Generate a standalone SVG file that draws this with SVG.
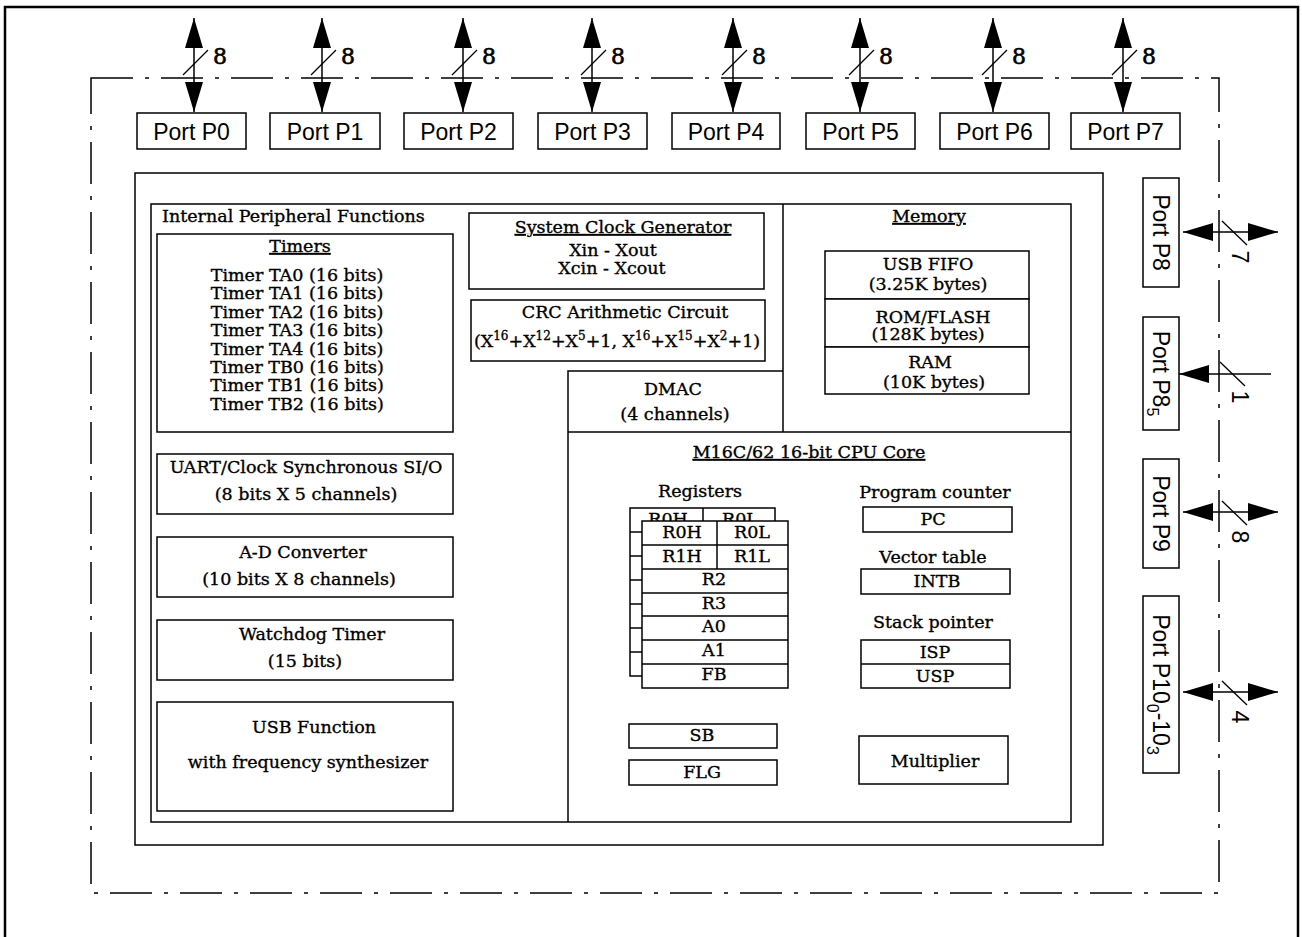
<svg xmlns="http://www.w3.org/2000/svg" width="1302" height="937" viewBox="0 0 1302 937">
<style>
.frame{fill:none;stroke:#000;stroke-width:2.5}
.dd{fill:none;stroke:#000;stroke-width:1.5;stroke-dasharray:42 12 4 12}
.box{fill:#fff;stroke:#000;stroke-width:1.5}
.ln{fill:none;stroke:#000;stroke-width:1.5}
.arr{fill:none;stroke:#000;stroke-width:1.5}
.sl{fill:none;stroke:#000;stroke-width:1.3}
.sans{font-family:"Liberation Sans",Arial,sans-serif;font-size:23px;fill:#000}
.serif{font-family:"DejaVu Serif",serif;font-size:17.5px;fill:#000;stroke:#000;stroke-width:0.35}
.lbl{font-family:"DejaVu Serif",serif;font-size:22px;fill:#000;stroke:#000;stroke-width:0.6}
.mid{text-anchor:middle}
.u{text-decoration:underline}
</style>
<defs>
<marker id="ah" viewBox="0 0 30 18" refX="30" refY="9" markerWidth="30" markerHeight="18" markerUnits="userSpaceOnUse" orient="auto-start-reverse">
<path d="M0,0 L30,9 L0,18 z" fill="#000"/>
</marker>
</defs>
<rect width="1302" height="937" fill="#fff"/>
<path class="frame" d="M5,940 V7 H1298 V940"/>
<rect class="dd" x="91" y="78" width="1128" height="815"/>

<g id="connectors">
<line class="arr" x1="194" y1="18" x2="194" y2="112" marker-start="url(#ah)" marker-end="url(#ah)"/>
<line class="arr" x1="322" y1="18" x2="322" y2="112" marker-start="url(#ah)" marker-end="url(#ah)"/>
<line class="arr" x1="463" y1="18" x2="463" y2="112" marker-start="url(#ah)" marker-end="url(#ah)"/>
<line class="arr" x1="592" y1="18" x2="592" y2="112" marker-start="url(#ah)" marker-end="url(#ah)"/>
<line class="arr" x1="733" y1="18" x2="733" y2="112" marker-start="url(#ah)" marker-end="url(#ah)"/>
<line class="arr" x1="860" y1="18" x2="860" y2="112" marker-start="url(#ah)" marker-end="url(#ah)"/>
<line class="arr" x1="993" y1="18" x2="993" y2="112" marker-start="url(#ah)" marker-end="url(#ah)"/>
<line class="arr" x1="1123" y1="18" x2="1123" y2="112" marker-start="url(#ah)" marker-end="url(#ah)"/>
<line class="sl" x1="183" y1="75" x2="208" y2="50"/>
<line class="sl" x1="311" y1="75" x2="336" y2="50"/>
<line class="sl" x1="452" y1="75" x2="477" y2="50"/>
<line class="sl" x1="581" y1="75" x2="606" y2="50"/>
<line class="sl" x1="722" y1="75" x2="747" y2="50"/>
<line class="sl" x1="849" y1="75" x2="874" y2="50"/>
<line class="sl" x1="982" y1="75" x2="1007" y2="50"/>
<line class="sl" x1="1112" y1="75" x2="1137" y2="50"/>
<text class="lbl" x="213" y="64">8</text>
<text class="lbl" x="341" y="64">8</text>
<text class="lbl" x="482" y="64">8</text>
<text class="lbl" x="611" y="64">8</text>
<text class="lbl" x="752" y="64">8</text>
<text class="lbl" x="879" y="64">8</text>
<text class="lbl" x="1012" y="64">8</text>
<text class="lbl" x="1142" y="64">8</text>

<line class="arr" x1="1183" y1="232" x2="1278" y2="232" marker-start="url(#ah)" marker-end="url(#ah)"/>
<line class="arr" x1="1271" y1="374" x2="1179" y2="374" marker-end="url(#ah)"/>
<line class="arr" x1="1183" y1="512" x2="1278" y2="512" marker-start="url(#ah)" marker-end="url(#ah)"/>
<line class="arr" x1="1183" y1="692" x2="1278" y2="692" marker-start="url(#ah)" marker-end="url(#ah)"/>
<line class="sl" x1="1222" y1="221" x2="1247" y2="245"/>
<line class="sl" x1="1220" y1="362" x2="1245" y2="386"/>
<line class="sl" x1="1222" y1="501" x2="1247" y2="525"/>
<line class="sl" x1="1222" y1="681" x2="1247" y2="705"/>
<text class="sans mid" transform="translate(1232,257) rotate(90)">7</text>
<text class="sans mid" transform="translate(1232,397) rotate(90)">1</text>
<text class="sans mid" transform="translate(1232,537) rotate(90)">8</text>
<text class="sans mid" transform="translate(1232,717) rotate(90)">4</text>
</g>

<g id="port-p0"><rect class="box" x="137" y="113" width="109" height="36"/><text class="sans mid" x="191.5" y="140">Port P0</text></g>
<g id="port-p1"><rect class="box" x="270" y="113" width="110" height="36"/><text class="sans mid" x="325" y="140">Port P1</text></g>
<g id="port-p2"><rect class="box" x="404" y="113" width="109" height="36"/><text class="sans mid" x="458.5" y="140">Port P2</text></g>
<g id="port-p3"><rect class="box" x="538" y="113" width="109" height="36"/><text class="sans mid" x="592.5" y="140">Port P3</text></g>
<g id="port-p4"><rect class="box" x="672" y="113" width="108" height="36"/><text class="sans mid" x="726" y="140">Port P4</text></g>
<g id="port-p5"><rect class="box" x="806" y="113" width="109" height="36"/><text class="sans mid" x="860.5" y="140">Port P5</text></g>
<g id="port-p6"><rect class="box" x="940" y="113" width="109" height="36"/><text class="sans mid" x="994.5" y="140">Port P6</text></g>
<g id="port-p7"><rect class="box" x="1071" y="113" width="109" height="36"/><text class="sans mid" x="1125.5" y="140">Port P7</text></g>

<g id="port-p8"><rect class="box" x="1143" y="178" width="36" height="109"/><text class="sans mid" transform="translate(1153,232.5) rotate(90)">Port P8</text></g>
<g id="port-p85"><rect class="box" x="1143" y="317" width="36" height="113"/><text class="sans mid" transform="translate(1153,373.5) rotate(90)">Port P8<tspan font-size="16" dy="6">5</tspan></text></g>
<g id="port-p9"><rect class="box" x="1143" y="459" width="36" height="109"/><text class="sans mid" transform="translate(1153,513.5) rotate(90)">Port P9</text></g>
<g id="port-p10"><rect class="box" x="1143" y="596" width="36" height="177"/><text class="sans mid" transform="translate(1153,684.5) rotate(90)">Port P10<tspan font-size="16" dy="6">0</tspan><tspan dy="-6">-10</tspan><tspan font-size="16" dy="6">3</tspan></text></g>

<g id="chip"><rect class="ln" x="135" y="173" width="968" height="672"/></g>

<g id="internal">
<rect class="ln" x="151" y="204" width="920" height="618"/>
<line class="ln" x1="783" y1="204" x2="783" y2="432"/>
<line class="ln" x1="568" y1="432" x2="1071" y2="432"/>
<text class="serif" x="162" y="222">Internal Peripheral Functions</text>
</g>

<g id="timers">
<rect class="box" x="157" y="234" width="296" height="198"/>
<text class="serif mid u" x="300" y="252">Timers</text>
<text class="serif mid" x="297" y="281">Timer TA0 (16 bits)</text>
<text class="serif mid" x="297" y="299.4">Timer TA1 (16 bits)</text>
<text class="serif mid" x="297" y="317.8">Timer TA2 (16 bits)</text>
<text class="serif mid" x="297" y="336.2">Timer TA3 (16 bits)</text>
<text class="serif mid" x="297" y="354.6">Timer TA4 (16 bits)</text>
<text class="serif mid" x="297" y="373">Timer TB0 (16 bits)</text>
<text class="serif mid" x="297" y="391.4">Timer TB1 (16 bits)</text>
<text class="serif mid" x="297" y="409.8">Timer TB2 (16 bits)</text>
</g>

<g id="uart">
<rect class="box" x="157" y="454" width="296" height="60"/>
<text class="serif mid" x="306" y="473" font-size="18.6">UART/Clock Synchronous SI/O</text>
<text class="serif mid" x="306" y="500">(8 bits X 5 channels)</text>
</g>
<g id="adc">
<rect class="box" x="157" y="537" width="296" height="60"/>
<text class="serif mid" x="303" y="558">A-D Converter</text>
<text class="serif mid" x="299" y="585">(10 bits X 8 channels)</text>
</g>
<g id="watchdog">
<rect class="box" x="157" y="620" width="296" height="60"/>
<text class="serif mid" x="312" y="640">Watchdog Timer</text>
<text class="serif mid" x="305" y="667">(15 bits)</text>
</g>
<g id="usb-function">
<rect class="box" x="157" y="702" width="296" height="109"/>
<text class="serif mid" x="314" y="733">USB Function</text>
<text class="serif mid" x="308" y="768">with frequency synthesizer</text>
</g>

<g id="clock">
<rect class="box" x="469" y="213" width="295" height="76"/>
<text class="serif mid u" x="623" y="233">System Clock Generator</text>
<text class="serif mid" x="613" y="256">Xin - Xout</text>
<text class="serif mid" x="612" y="274">Xcin - Xcout</text>
</g>
<g id="crc">
<rect class="box" x="471" y="300" width="294" height="61"/>
<text class="serif mid" x="625" y="318">CRC Arithmetic Circuit</text>
<text class="serif mid" x="617" y="347">(X<tspan font-size="12" dy="-7">16</tspan><tspan dy="7">+X</tspan><tspan font-size="12" dy="-7">12</tspan><tspan dy="7">+X</tspan><tspan font-size="12" dy="-7">5</tspan><tspan dy="7">+1, X</tspan><tspan font-size="12" dy="-7">16</tspan><tspan dy="7">+X</tspan><tspan font-size="12" dy="-7">15</tspan><tspan dy="7">+X</tspan><tspan font-size="12" dy="-7">2</tspan><tspan dy="7">+1)</tspan></text>
</g>

<g id="dmac">
<path class="ln" d="M568,822 V371 H783"/>
<text class="serif mid" x="673" y="395">DMAC</text>
<text class="serif mid" x="675" y="420">(4 channels)</text>
</g>

<g id="memory">
<text class="serif mid u" x="929" y="222">Memory</text>
<rect class="box" x="825" y="251" width="204" height="48"/>
<rect class="box" x="825" y="299" width="204" height="48"/>
<rect class="box" x="825" y="347" width="204" height="47"/>
<text class="serif mid" x="928" y="270">USB FIFO</text>
<text class="serif mid" x="928" y="290">(3.25K bytes)</text>
<text class="serif mid" x="933" y="323">ROM/FLASH</text>
<text class="serif mid" x="928" y="340">(128K bytes)</text>
<text class="serif mid" x="930" y="368">RAM</text>
<text class="serif mid" x="934" y="388">(10K bytes)</text>
</g>

<g id="cpu">
<text class="serif mid u" x="809" y="458">M16C/62 16-bit CPU Core</text>
</g>

<g id="registers">
<text class="serif mid" x="700" y="497">Registers</text>
<rect class="box" x="630" y="508" width="145" height="168"/>
<line class="ln" x1="703" y1="508" x2="703" y2="521"/>
<text class="serif mid" x="668" y="525">R0H</text>
<text class="serif mid" x="740" y="525">R0L</text>
<line class="ln" x1="630" y1="532" x2="642" y2="532"/>
<line class="ln" x1="630" y1="556" x2="642" y2="556"/>
<line class="ln" x1="630" y1="580" x2="642" y2="580"/>
<line class="ln" x1="630" y1="604" x2="642" y2="604"/>
<line class="ln" x1="630" y1="628" x2="642" y2="628"/>
<line class="ln" x1="630" y1="652" x2="642" y2="652"/>
<rect class="box" x="642" y="521" width="146" height="167"/>
<line class="ln" x1="642" y1="545" x2="788" y2="545"/>
<line class="ln" x1="642" y1="569" x2="788" y2="569"/>
<line class="ln" x1="642" y1="593" x2="788" y2="593"/>
<line class="ln" x1="642" y1="616" x2="788" y2="616"/>
<line class="ln" x1="642" y1="640" x2="788" y2="640"/>
<line class="ln" x1="642" y1="664" x2="788" y2="664"/>
<line class="ln" x1="717" y1="521" x2="717" y2="569"/>
<text class="serif mid" x="682" y="538">R0H</text>
<text class="serif mid" x="752" y="538">R0L</text>
<text class="serif mid" x="682" y="562">R1H</text>
<text class="serif mid" x="752" y="562">R1L</text>
<text class="serif mid" x="714" y="585">R2</text>
<text class="serif mid" x="714" y="609">R3</text>
<text class="serif mid" x="714" y="632">A0</text>
<text class="serif mid" x="714" y="656">A1</text>
<text class="serif mid" x="714" y="680">FB</text>
</g>

<g id="sb"><rect class="box" x="629" y="724" width="148" height="24"/><text class="serif mid" x="702" y="741">SB</text></g>
<g id="flg"><rect class="box" x="629" y="760" width="148" height="25"/><text class="serif mid" x="702" y="778">FLG</text></g>

<g id="pc">
<text class="serif mid" x="935" y="498">Program counter</text>
<rect class="box" x="863" y="507" width="149" height="25"/>
<text class="serif mid" x="933" y="525">PC</text>
</g>
<g id="intb">
<text class="serif mid" x="933" y="563">Vector table</text>
<rect class="box" x="861" y="569" width="149" height="25"/>
<text class="serif mid" x="937" y="587">INTB</text>
</g>
<g id="stack">
<text class="serif mid" x="933" y="628">Stack pointer</text>
<rect class="box" x="861" y="640" width="149" height="48"/>
<line class="ln" x1="861" y1="664" x2="1010" y2="664"/>
<text class="serif mid" x="935" y="658">ISP</text>
<text class="serif mid" x="935" y="682">USP</text>
</g>
<g id="multiplier">
<rect class="box" x="859" y="736" width="149" height="48"/>
<text class="serif mid" x="935" y="767" font-size="16">Multiplier</text>
</g>
</svg>
